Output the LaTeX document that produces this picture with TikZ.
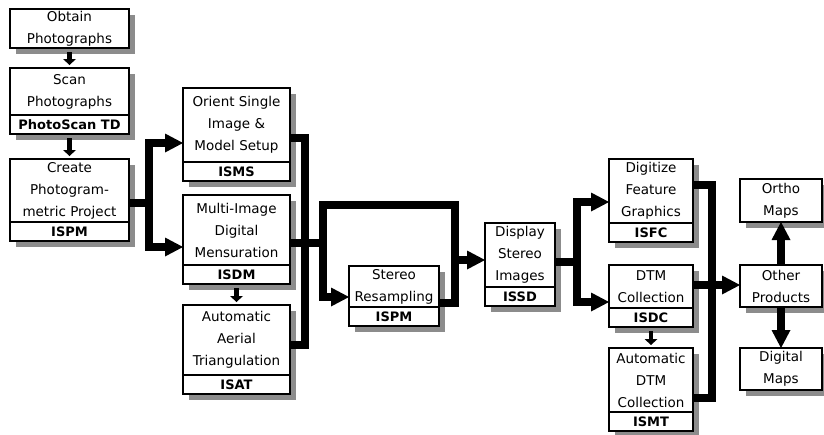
\documentclass[tikz,border=0pt]{standalone}
\usepackage{fontspec}
\setmainfont{DejaVu Sans}
\usetikzlibrary{positioning, arrows.meta, backgrounds}

\begin{document}
\begin{tikzpicture}[
  x=1pt, y=-1pt,
  proc/.style  = {draw, fill=white, line width=2.4pt, inner sep=0pt, outer sep=0pt,
                  align=center, anchor=north west, minimum width=#1,
                  font=\fontsize{13.5pt}{22pt}\selectfont},
  tag/.style   = {draw, fill=white, line width=2.4pt, inner sep=0pt, outer sep=0pt,
                  minimum width=#1, minimum height=19pt,
                  font=\bfseries\fontsize{13pt}{14pt}\selectfont},
  shdw/.style  = {fill=black!45},
  pipe/.style  = {line width=8pt},
  arr/.style   = {pipe, -{Triangle[length=18pt, width=19pt, line width=0pt]}},
  feed/.style  = {line width=4.5pt, -{Triangle[length=6pt, width=13pt, line width=0pt]},
                  shorten <=4pt, shorten >=3pt},
]
  \useasboundingbox (0,0) rectangle (824,434);

  % left column
  \node[proc=119pt, minimum height=39pt] (obtain) at (10,9)   {Obtain\\Photographs};
  \node[proc=119pt, minimum height=47pt] (scan)   at (10,68)  {Scan\\Photographs};
  \node[tag=119pt, below=0pt of scan]    (scantag)            {PhotoScan TD};
  \node[proc=119pt, minimum height=63pt] (create) at (10,159) {Create\\Photogram-\\metric Project};
  \node[tag=119pt, below=0pt of create]  (createtag)          {ISPM};

  % orientation / mensuration
  \node[proc=107pt, minimum height=74pt] (isms) at (183,88)  {Orient Single\\Image \&\\Model Setup};
  \node[tag=107pt, below=0pt of isms]    (ismstag)           {ISMS};
  \node[proc=107pt, minimum height=70pt] (isdm) at (183,195) {Multi-Image\\Digital\\Mensuration};
  \node[tag=107pt, below=0pt of isdm]    (isdmtag)           {ISDM};
  \node[proc=107pt, minimum height=70pt] (isat) at (183,305) {Automatic\\Aerial\\Triangulation};
  \node[tag=107pt, below=0pt of isat]    (isattag)           {ISAT};

  % stereo
  \node[proc=90pt, minimum height=41pt]  (stereo) at (349,266)  {Stereo\\Resampling};
  \node[tag=90pt, below=0pt of stereo]   (stereotag)            {ISPM};
  \node[proc=70pt, minimum height=64pt]  (display) at (485,223) {Display\\Stereo\\Images};
  \node[tag=70pt, below=0pt of display]  (displaytag)           {ISSD};

  % collection
  \node[proc=84pt, minimum height=64pt]  (isfc) at (609,159) {Digitize\\Feature\\Graphics};
  \node[tag=84pt, below=0pt of isfc]     (isfctag)           {ISFC};
  \node[proc=84pt, minimum height=43pt]  (isdc) at (609,265) {DTM\\Collection};
  \node[tag=84pt, below=0pt of isdc]     (isdctag)           {ISDC};
  \node[proc=84pt, minimum height=64pt]  (ismt) at (609,348) {Automatic\\DTM\\Collection};
  \node[tag=84pt, below=0pt of ismt]     (ismttag)           {ISMT};

  % products
  \node[proc=82pt, minimum height=43pt]  (ortho)   at (740,179) {Ortho\\Maps};
  \node[proc=82pt, minimum height=42pt]  (other)   at (740,265) {Other\\Products};
  \node[proc=82pt, minimum height=42pt]  (digital) at (740,348) {Digital\\Maps};

  % shadows
  \begin{scope}[on background layer]
    \foreach \n/\t in {obtain/obtain, scan/scantag, create/createtag, isms/ismstag,
                       isdm/isdmtag, isat/isattag, stereo/stereotag, display/displaytag,
                       isfc/isfctag, isdc/isdctag, ismt/ismttag, ortho/ortho,
                       other/other, digital/digital}
       \fill[shdw] ([xshift=6pt, yshift=-6pt]\t.south west) rectangle ([xshift=6pt, yshift=-6pt]\n.north east);
  \end{scope}

  % junctions
  \coordinate (j1) at (149,203);
  \coordinate (j2) at (305,243);
  \coordinate (j3) at (323,243);
  \coordinate (j4) at (455,205);
  \coordinate (j5) at (455,260);
  \coordinate (j6) at (577,262);
  \coordinate (j7) at (712,285);

  \foreach \a/\b in {obtain/scan, scantag/create, isdmtag/isat, isdctag/ismt}
     \draw[feed] (\a) -- (\b);

  \draw[pipe] (create.east |- j1) -- (j1);
  \draw[arr]  (j1) |- ([yshift=-18pt]isms.west);
  \draw[arr]  (j1) |- ([yshift=-17pt]isdm.west);

  \draw[pipe] ([yshift=-13pt]isms.east) -| (j2);
  \draw[pipe] ([yshift=-5pt]isat.east) -| (j2);
  \draw[pipe] (isdm.east |- j2) -- (j3);
  \draw[arr]  (j3) |- ([yshift=-10.5pt]stereo.west);
  \draw[pipe] (j3) |- (j4) -- (j5);
  \draw[pipe] ([yshift=-16.5pt]stereo.east) -| (j5);
  \draw[arr]  (j5) -- (display.west |- j5);

  \draw[pipe] (display.east |- j6) -- (j6);
  \draw[arr]  (j6) |- ([yshift=-11pt]isfc.west);
  \draw[arr]  (j6) |- ([yshift=-15.5pt]isdc.west);

  \draw[pipe] ([yshift=6pt]isfc.east) -| (j7);
  \draw[pipe] ([yshift=-18pt]ismt.east) -| (j7);
  \draw[arr]  (isdc.east |- j7) -- (other.west |- j7);
  \draw[arr]  (other) -- (ortho);
  \draw[arr]  (other) -- (digital);
\end{tikzpicture}
\end{document}
